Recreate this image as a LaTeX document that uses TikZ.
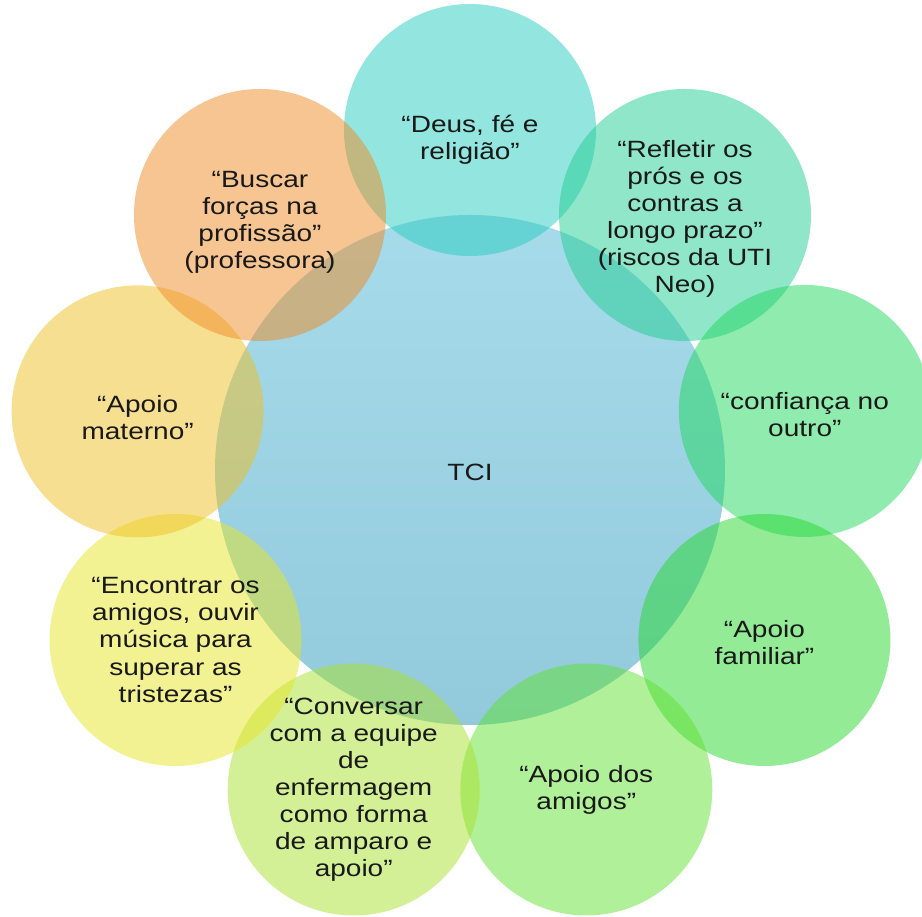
\documentclass[tikz,border=0pt]{standalone}
\usepackage{fontspec}
\setmainfont{Liberation Sans}[FakeStretch=1.19]
\usepackage{tikz}
\usetikzlibrary{calc}
\definecolor{cDeus}{RGB}{39,203,191}
\definecolor{cRefl}{RGB}{33,205,145}
\definecolor{cConf}{RGB}{33,215,93}
\definecolor{cFam}{RGB}{39,215,45}
\definecolor{cAmig}{RGB}{97,225,49}
\definecolor{cConv}{RGB}{169,225,45}
\definecolor{cEnc}{RGB}{231,229,39}
\definecolor{cMat}{RGB}{239,191,37}
\definecolor{cBusc}{RGB}{239,139,37}
\definecolor{cTopo}{RGB}{166,219,234}
\definecolor{cBase}{RGB}{146,202,220}
\definecolor{cTexto}{RGB}{25,25,25}
\tikzset{
  bubble/.style={fill opacity=0.5},
  phrase/.style={align=center, text=cTexto, inner sep=0pt,
    font=\fontsize{13.4}{15.4}\selectfont}
}

\begin{document}
\begin{tikzpicture}[scale=1]
\useasboundingbox (-9.4,-8.94) rectangle (9.04,9.4);
% centre of each outer circle
\coordinate (p1) at (90:6.8);
\coordinate (p2) at (4.3,5.1);
\coordinate (p3) at (10:6.8);
\coordinate (p4) at (-30:6.8);
\coordinate (p5) at (-70:6.8);
\coordinate (p6) at (-110:6.8);
\coordinate (p7) at (-150:6.8);
\coordinate (p8) at (170:6.75);
\coordinate (p9) at (-4.2,5.1);
% big circle
\shade[top color=cTopo, bottom color=cBase] (0,0) circle (5.1);
% ring of circles
\fill[bubble, cDeus] (p1) circle (2.52);
\fill[bubble, cRefl] (p2) circle (2.52);
\fill[bubble, cConf] (p3) circle (2.52);
\fill[bubble, cFam] (p4) circle (2.52);
\fill[bubble, cAmig] (p5) circle (2.52);
\fill[bubble, cConv] (p6) circle (2.52);
\fill[bubble, cEnc] (p7) circle (2.52);
\fill[bubble, cMat] (p8) circle (2.52);
\fill[bubble, cBusc] (p9) circle (2.52);
% texts
\node (tci) at (0,-0.05) [phrase]{TCI};
\node (deus) at ($(p1)+(0,-0.2)$) [phrase]{“Deus, fé e\\religião”};
\node (refl) at ($(p2)+(0,-0.08)$) [phrase]{“Refletir os\\prós e os\\contras a\\longo prazo”\\(riscos da UTI\\Neo)};
\node (conf) at ($(p3)+(0,-0.08)$) [phrase]{“confiança no\\outro”};
\node (fam) at ($(p4)+(0,-0.06)$) [phrase]{“Apoio\\familiar”};
\node (amig) at (p5) [phrase]{“Apoio dos\\amigos”};
\node (conv) at (p6) [phrase]{“Conversar\\com a equipe\\de\\enfermagem\\como forma\\de amparo e\\apoio”};
\node (enc) at (p7) [phrase]{“Encontrar os\\amigos, ouvir\\música para\\superar as\\tristezas”};
\node (mat) at ($(p8)+(0,-0.12)$) [phrase]{“Apoio\\materno”};
\node (busc) at ($(p9)+(0,-0.15)$) [phrase]{“Buscar\\forças na\\profissão”\\(professora)};
\end{tikzpicture}
\end{document}
